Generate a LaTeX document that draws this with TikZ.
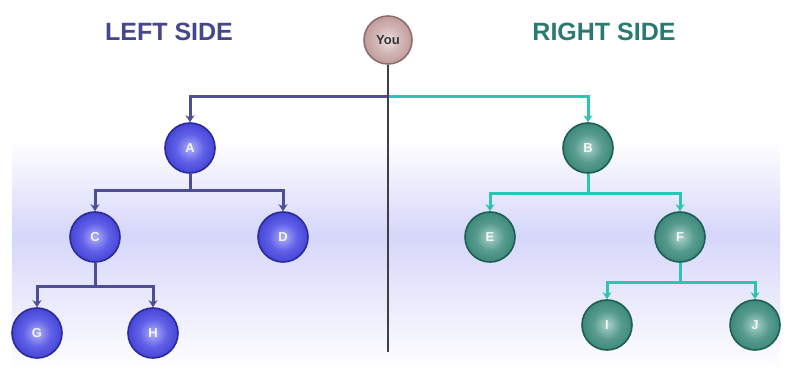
\documentclass[tikz,border=0pt]{standalone}
\usepackage{fontspec}
\setmainfont{Liberation Sans}
\usetikzlibrary{arrows.meta,shadings}
\definecolor{leftline}{HTML}{4E4E96}
\definecolor{rightline}{HTML}{2EC4B4}
\definecolor{lefttitle}{HTML}{46468C}
\definecolor{righttitle}{HTML}{2A7A72}
\definecolor{lavender}{HTML}{D6D6FA}
\definecolor{bluerim}{HTML}{2A2A9A}
\definecolor{tealrim}{HTML}{1E5E54}
\definecolor{yourim}{HTML}{8E6E6E}
\pgfdeclareradialshading{blueball}{\pgfpoint{0bp}{0bp}}{%
  color(0bp)=(rgb,255:red,175;green,175;blue,248);
  color(14bp)=(rgb,255:red,96;green,96;blue,232);
  color(30bp)=(rgb,255:red,58;green,58;blue,208);
  color(50bp)=(rgb,255:red,40;green,40;blue,160)}
\pgfdeclareradialshading{tealball}{\pgfpoint{0bp}{0bp}}{%
  color(0bp)=(rgb,255:red,170;green,210;blue,202);
  color(14bp)=(rgb,255:red,88;green,156;blue,142);
  color(30bp)=(rgb,255:red,48;green,128;blue,114);
  color(50bp)=(rgb,255:red,30;green,96;blue,84)}
\pgfdeclareradialshading{youball}{\pgfpoint{0bp}{0bp}}{%
  color(0bp)=(rgb,255:red,238;green,224;blue,224);
  color(14bp)=(rgb,255:red,210;green,180;blue,180);
  color(32bp)=(rgb,255:red,182;green,142;blue,142);
  color(50bp)=(rgb,255:red,150;green,116;blue,116)}
\tikzset{
  ballnode/.style={circle, minimum size=50pt, inner sep=0pt, font=\bfseries\fontsize{13}{13}\selectfont, text=white!92!gray, line width=1.6pt},
  bluenodes/.style={ballnode, shading=blueball, draw=bluerim},
  tealnodes/.style={ballnode, shading=tealball, draw=tealrim},
  lconn/.style={draw=leftline, line width=3pt},
  rconn/.style={draw=rightline, line width=3pt},
  larrow/.style={lconn, -{Stealth[length=7pt,width=9pt]}},
  rarrow/.style={rconn, -{Stealth[length=7pt,width=9pt]}},
  title/.style={font=\bfseries\fontsize{25}{25}\selectfont}
}
\begin{document}
\begin{tikzpicture}[x=1pt,y=-1pt]
\useasboundingbox (0,0) rectangle (792,385);
% background band
\fill[white] (0,0) rectangle (792,385);
\shade[top color=white, bottom color=lavender] (12,140) rectangle (780,235);
\shade[top color=lavender, bottom color=white] (12,235) rectangle (780,370);
% titles
\node[title, text=lefttitle] (lt) at (169,32) {LEFT SIDE};
\node[title, text=righttitle] (rt) at (604,32) {RIGHT SIDE};
% nodes
\node[ballnode, minimum size=48pt, shading=youball, draw=yourim, text=black!80] (you) at (388,40) {You};
\coordinate (bottom) at (388,352);
\coordinate (j0) at (388,97);
\node[bluenodes] (A) at (190,148) {A};
\node[bluenodes] (C) at (95,237) {C};
\node[bluenodes] (D) at (283,237) {D};
\node[bluenodes] (G) at (37,333) {G};
\node[bluenodes] (H) at (153,333) {H};
\node[tealnodes] (B) at (588,148) {B};
\node[tealnodes] (E) at (490,237) {E};
\node[tealnodes] (F) at (680,237) {F};
\node[tealnodes] (I) at (607,325) {I};
\node[tealnodes] (J) at (755,325) {J};
\coordinate (jA) at (190,190);
\coordinate (jC) at (95,286);
\coordinate (jB) at (588,193);
\coordinate (jF) at (680,282);
% connectors
\draw[larrow] (j0) -| (A.north);
\draw[rarrow] (j0) -| (B.north);
\draw[draw=black!75, line width=2pt] (you.south) -- (bottom);
\draw[lconn] (A.south) -- (jA);
\draw[larrow] (jA) -| (C.north);
\draw[larrow] (jA) -| (D.north);
\draw[lconn] (C.south) -- (jC);
\draw[larrow] (jC) -| (G.north);
\draw[larrow] (jC) -| (H.north);
\draw[rconn] (B.south) -- (jB);
\draw[rarrow] (jB) -| (E.north);
\draw[rarrow] (jB) -| (F.north);
\draw[rconn] (F.south) -- (jF);
\draw[rarrow] (jF) -| (I.north);
\draw[rarrow] (jF) -| (J.north);
\end{tikzpicture}
\end{document}
